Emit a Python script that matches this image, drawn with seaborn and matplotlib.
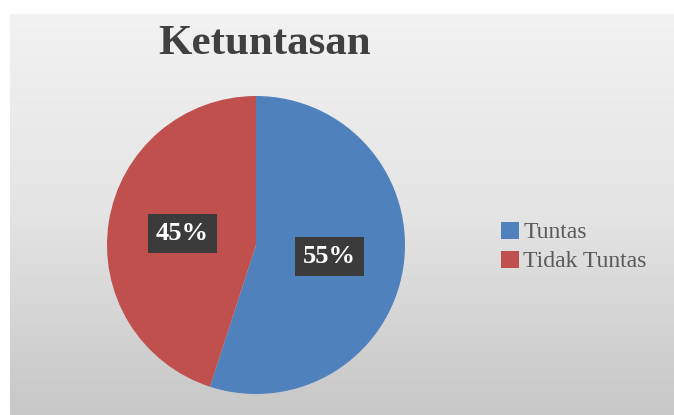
import numpy as np
import matplotlib
matplotlib.use("Agg")
import matplotlib.pyplot as plt
import seaborn as sns
from matplotlib.patches import Patch

categories = ["Tuntas", "Tidak Tuntas"]
values = [55, 45]
colors = ["#4F81BD", "#C0504D"]
title = "Ketuntasan"

sns.set_theme(style="white")
plt.rcParams["font.family"] = ["Liberation Serif", "DejaVu Serif"]

W, H = 674, 415
fig = plt.figure(figsize=(W / 100, H / 100), dpi=100)
fig.patch.set_facecolor("white")

# background gradient panel
bg = fig.add_axes([10 / W, 0, 1 - 10 / W, (H - 14) / H])
grad = np.linspace(0, 1, 256).reshape(-1, 1)
cmap = matplotlib.colors.LinearSegmentedColormap.from_list("g", ["#f2f2f2", "#e4e4e4", "#c7c7c7"])
bg.imshow(grad, aspect="auto", cmap=cmap, extent=[0, 1, 0, 1], origin="upper")
bg.set_axis_off()

# pie
cx, cy, r = 256, 245, 149
ax = fig.add_axes([(cx - r) / W, (H - cy - r) / H, 2 * r / W, 2 * r / H])
wedges, texts, autotexts = ax.pie(
    values, colors=colors, startangle=90, counterclock=False,
    autopct=lambda p: f"{p:.0f}%", pctdistance=0.5, radius=1,
    wedgeprops=dict(linewidth=0),
    textprops=dict(color="white", fontsize=19, fontweight="bold"),
)
for t in autotexts:
    t.set_bbox(dict(facecolor="#3b3b3b", edgecolor="none", boxstyle="square,pad=0.3"))
ax.set_xlim(-1, 1)
ax.set_ylim(-1, 1)
ax.set_aspect("equal")
ax.set_axis_off()

fig.text(265 / W, 1 - 44 / H, title, ha="center", va="center",
         fontsize=31, fontweight="bold", color="#404040")

handles = [Patch(facecolor=c, edgecolor="none") for c in colors]
fig.legend(handles, categories, loc="center left", bbox_to_anchor=(501 / W, 1 - 247 / H),
           frameon=False, fontsize=17, handlelength=0.75, handleheight=0.75,
           handletextpad=0.2, labelspacing=0.3, borderpad=0, borderaxespad=0,
           labelcolor="#595959")

fig.savefig("out.png", dpi=100)
